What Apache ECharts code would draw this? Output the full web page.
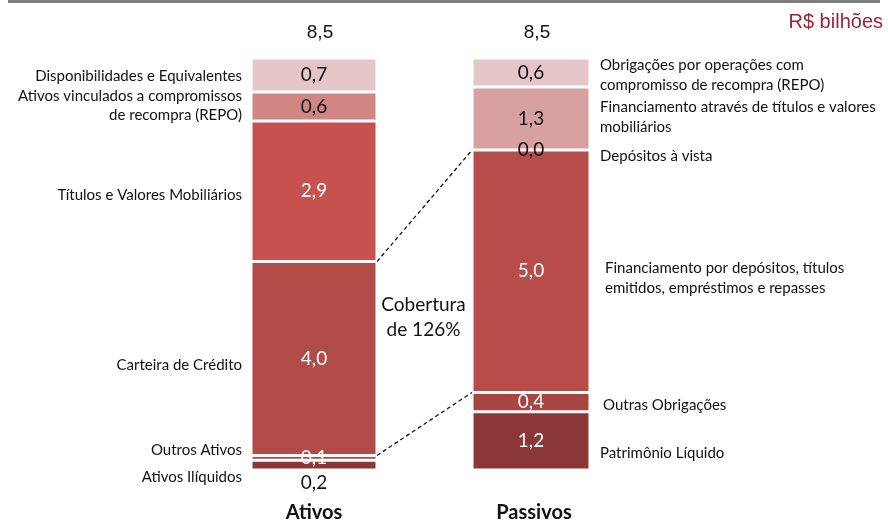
<!DOCTYPE html>
<html><head><meta charset="utf-8">
<script src="https://cdn.jsdelivr.net/npm/echarts@6/dist/echarts.min.js"></script>
<style>html,body{margin:0;padding:0;background:#fff}#c{width:888px;height:523px}</style>
</head><body><div id="c"></div>
<script>
// ---- data (bottom to top) ----
const categories = ['Ativos', 'Passivos'];
const ativosNames = ['Ativos Ilíquidos', 'Outros Ativos', 'Carteira de Crédito', 'Títulos e Valores Mobiliários', 'Ativos vinculados a compromissos\nde recompra (REPO)', 'Disponibilidades e Equivalentes'];
const ativosValues = [0.2, 0.1, 4.0, 2.9, 0.6, 0.7];
const passivosNames = ['Patrimônio Líquido', 'Outras Obrigações', 'Financiamento por depósitos, títulos\nemitidos, empréstimos e repasses', 'Depósitos à vista', 'Financiamento através de títulos e valores\nmobiliários', 'Obrigações por operações com\ncompromisso de recompra (REPO)'];
const passivosValues = [1.2, 0.4, 5.0, 0.0, 1.3, 0.6];
const coverageText = 'Cobertura\nde 126%';
const unitText = 'R$ bilhões';
const linkAtivosIndex = 2;   // Carteira de Crédito
const linkPassivosIndex = 2; // Financiamento por depósitos...

// ---- styles ----
const ativosColors = ['#8c3737', '#b04b48', '#b04b48', '#c65250', '#d08784', '#e5c6c8'];
const passivosColors = ['#8c3737', '#a84542', '#b84c4a', '#b84c4a', '#d8a1a1', '#e5c6c8'];
const ativosLabelColors = ['#111', '#fff', '#fff', '#fff', '#111', '#111'];
const passivosLabelColors = ['#fff', '#fff', '#fff', '#111', '#111', '#111'];
const ativosLabelPos = ['bottom', 'inside', 'inside', 'inside', 'inside', 'inside'];
const ativosNameDy = [12, -8, 7, 4, -1, 1];
const passivosNameDy = [12, 3, 7, 6, -1, 3];
const passivosNameDx = [0, 3, 5, 0, 0, 0];

const FONT = 'Lato, "Open Sans", sans-serif';
const fmt = v => v.toFixed(1).replace('.', ',');

const chart = echarts.init(document.getElementById('c'));

function makeSeries(values, colors, labelColors, positions, gi, stack) {
  return values.map((v, i) => ({
    type: 'bar', stack: stack, xAxisIndex: gi, yAxisIndex: gi,
    barWidth: '100%', data: [v], animation: false,
    itemStyle: { color: colors[i], borderColor: '#fff', borderWidth: 1.5 },
    label: {
      show: true, position: positions ? positions[i] : 'inside', distance: 3,
      formatter: p => fmt(p.value), color: labelColors[i],
      fontFamily: FONT, fontSize: 19
    },
    emphasis: { disabled: true }
  }));
}

const total = arr => arr.reduce((a, b) => a + b, 0);
const yMax = Math.max(total(ativosValues), total(passivosValues));

const xAxisBase = (name, dx) => ({
  type: 'category', data: [name],
  axisLine: { show: false }, axisTick: { show: false },
  axisLabel: { margin: 33, color: '#111', fontFamily: FONT, fontSize: 20, fontWeight: 'bold', padding: [0, 0, 0, dx] }
});
const yAxisBase = () => ({ type: 'value', min: 0, max: yMax, show: false });

chart.setOption({
  backgroundColor: '#fff',
  grid: [
    { left: 251, width: 126, top: 58, bottom: 53 },
    { left: 472, width: 118, top: 58, bottom: 53 }
  ],
  xAxis: [xAxisBase(categories[0], 0), Object.assign(xAxisBase(categories[1], 6), { gridIndex: 1 })],
  yAxis: [yAxisBase(), Object.assign(yAxisBase(), { gridIndex: 1 })],
  series: [
    ...makeSeries(ativosValues, ativosColors, ativosLabelColors, ativosLabelPos, 0, 'A'),
    ...makeSeries(passivosValues, passivosColors, passivosLabelColors, null, 1, 'P')
  ]
});

function px(gi, cat, y) {
  return chart.convertToPixel({ xAxisIndex: gi, yAxisIndex: gi }, [cat, y]);
}
const cum = arr => { let s = 0; return arr.map(v => (s += v)); };
const aCum = cum(ativosValues), pCum = cum(passivosValues);
const aLeft = 251, aRight = 377, pLeft = 472, pRight = 590;

const g = [];
// top grey rule
g.push({ type: 'rect', shape: { x: 8, y: 0, width: 872, height: 3 }, style: { fill: '#7f7f7f' } });
// unit
g.push({ type: 'text', x: 883, y: 22, style: { text: unitText, fill: '#9b2335', font: '20px "Liberation Sans", Arial, sans-serif', align: 'right', verticalAlign: 'middle' } });

// totals
[[0, categories[0], aCum, 6], [1, categories[1], pCum, 6]].forEach(([gi, cat, c, dx]) => {
  const p = px(gi, cat, c[c.length - 1]);
  g.push({ type: 'text', x: p[0] + dx, y: p[1] - 25, style: { text: fmt(c[c.length - 1]), fill: '#111', font: '19px "Liberation Sans", Arial, sans-serif', align: 'center', verticalAlign: 'middle' } });
});

// names
ativosNames.forEach((n, i) => {
  const mid = (aCum[i] - ativosValues[i] / 2);
  const p = px(0, categories[0], mid);
  g.push({ type: 'text', x: aLeft - 9, y: p[1] + ativosNameDy[i], style: { text: n, fill: '#111', font: '15px ' + FONT, align: 'right', verticalAlign: 'middle', lineHeight: 19 } });
});
passivosNames.forEach((n, i) => {
  const mid = (pCum[i] - passivosValues[i] / 2);
  const p = px(1, categories[1], mid);
  g.push({ type: 'text', x: pRight + 10 + passivosNameDx[i], y: p[1] + passivosNameDy[i], style: { text: n, fill: '#111', font: '15px ' + FONT, align: 'left', verticalAlign: 'middle', lineHeight: 20 } });
});

// coverage dashed links
const aTop = px(0, categories[0], aCum[linkAtivosIndex])[1];
const aBot = px(0, categories[0], aCum[linkAtivosIndex] - ativosValues[linkAtivosIndex])[1];
const pTop = px(1, categories[1], pCum[linkPassivosIndex])[1];
const pBot = px(1, categories[1], pCum[linkPassivosIndex] - passivosValues[linkPassivosIndex])[1];
g.push({ type: 'line', shape: { x1: aRight, y1: aTop, x2: pLeft, y2: pTop }, style: { stroke: '#111', lineWidth: 1.3, lineDash: [4, 3] } });
g.push({ type: 'line', shape: { x1: aRight, y1: aBot, x2: pLeft, y2: pBot }, style: { stroke: '#111', lineWidth: 1.3, lineDash: [4, 3] } });
g.push({ type: 'text', x: (aRight + pLeft) / 2 - 1, y: 317, style: { text: coverageText, fill: '#111', font: '19px ' + FONT, align: 'center', verticalAlign: 'middle', lineHeight: 25 } });

chart.setOption({ graphic: g });
</script></body></html>
